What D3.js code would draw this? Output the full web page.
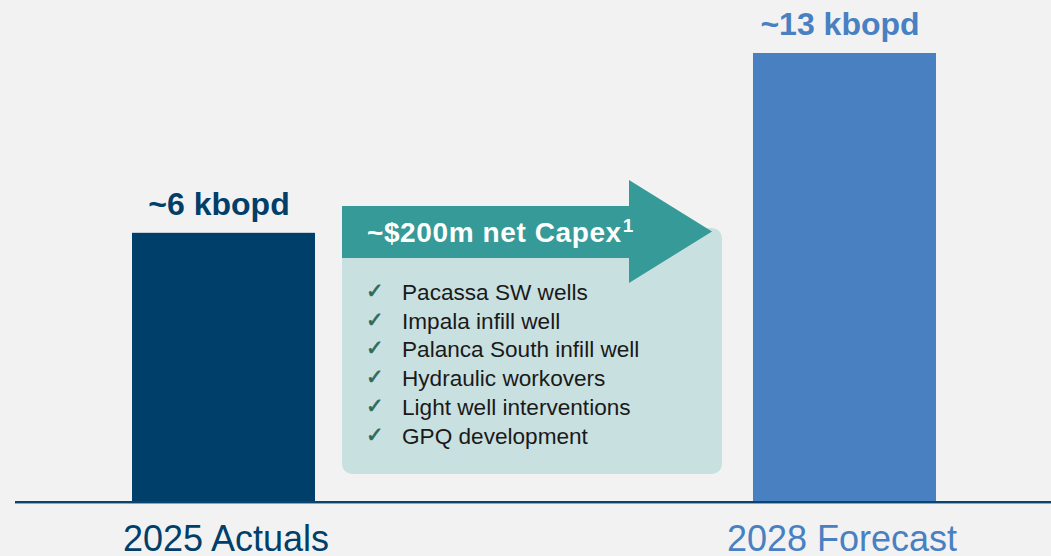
<!DOCTYPE html>
<html>
<head>
<meta charset="utf-8">
<script src="https://cdn.jsdelivr.net/npm/d3@7"></script>
<style>
  html, body { margin: 0; padding: 0; background: #f2f2f2; }
  svg { display: block; }
</style>
</head>
<body>
<svg id="chart" width="1051" height="556"></svg>
<script>
// Production volumes (kbopd)
const categories = ["2025 Actuals", "2028 Forecast"];
const production = [6, 13];
const valueLabels = ["~6 kbopd", "~13 kbopd"];
const barColors = ["#003f6a", "#4880c2"];

// Investment programme bridging the two years
const capexTitle = "~$200m net Capex";
const capexNote = "1";
const projects = [
  "Pacassa SW wells",
  "Impala infill well",
  "Palanca South infill well",
  "Hydraulic workovers",
  "Light well interventions",
  "GPQ development"
];

const svg = d3.select("#chart");
const W = 1051, H = 556;
const baseY = 501;

svg.append("rect").attr("width", W).attr("height", H).attr("fill", "#f2f2f2");

const x = d3.scaleBand()
  .domain(categories)
  .range([132, 936])
  .paddingInner(0.7053)
  .paddingOuter(0);

// bars are drawn on a non-zero-based value axis (not to scale from zero)
const y = d3.scaleLinear()
  .domain([-4.44, 13])
  .range([baseY, 53]);

const data = categories.map((c, i) => ({ c, v: production[i], label: valueLabels[i], color: barColors[i] }));

// Capex panel (light box behind arrow)
const boxL = 342, boxR = 722, boxT = 228, boxB = 474;
svg.append("rect")
  .attr("x", boxL).attr("y", boxT)
  .attr("width", boxR - boxL).attr("height", boxB - boxT)
  .attr("rx", 10).attr("ry", 10)
  .attr("fill", "#c9e0e0");

// Arrow
const aTop = 206, aBot = 258, headX = 629, headTop = 180, headBot = 283, tipX = 712;
const arrowPts = [
  [boxL, aTop], [headX, aTop], [headX, headTop], [tipX, (headTop + headBot) / 2],
  [headX, headBot], [headX, aBot], [boxL, aBot]
];
svg.append("path")
  .attr("d", d3.line()(arrowPts) + "Z")
  .attr("fill", "#359a98");

const title = svg.append("text")
  .attr("x", 367).attr("y", 242)
  .attr("fill", "#ffffff")
  .attr("font-family", "Liberation Sans, Arial, sans-serif")
  .attr("font-weight", "bold")
  .attr("font-size", 28)
  .attr("letter-spacing", 0.6)
  .text(capexTitle);
title.append("tspan")
  .attr("dy", -10)
  .attr("dx", 1)
  .attr("font-size", 19)
  .text(capexNote);

// Project list
const listG = svg.append("g");
const item = listG.selectAll("g.item")
  .data(projects)
  .enter().append("g")
  .attr("class", "item")
  .attr("transform", (d, i) => `translate(0, ${300 + i * 28.7})`);
item.append("text")
  .attr("x", 366)
  .attr("y", -2)
  .attr("fill", "#2e6a5c")
  .attr("stroke", "#2e6a5c")
  .attr("stroke-width", 0.7)
  .attr("font-family", "DejaVu Sans, sans-serif")
  .attr("font-size", 21)
  .text("\u2713");
item.append("text")
  .attr("x", 402)
  .attr("fill", "#1a1a1a")
  .attr("font-family", "Liberation Sans, Arial, sans-serif")
  .attr("font-size", 22.6)
  .text(d => d);

// Bars
svg.selectAll("rect.bar")
  .data(data)
  .enter().append("rect")
  .attr("class", "bar")
  .attr("x", d => x(d.c))
  .attr("width", x.bandwidth())
  .attr("y", d => y(d.v))
  .attr("height", d => baseY - y(d.v))
  .attr("fill", d => d.color);

// Value labels
svg.selectAll("text.val")
  .data(data)
  .enter().append("text")
  .attr("class", "val")
  .attr("x", d => x(d.c) + x.bandwidth() / 2 - 4.5)
  .attr("y", d => y(d.v) - 18)
  .attr("text-anchor", "middle")
  .attr("fill", d => d.color)
  .attr("font-family", "Liberation Sans, Arial, sans-serif")
  .attr("font-weight", "bold")
  .attr("font-size", 32)
  .text(d => d.label);

// Baseline
svg.append("rect").attr("x", 15).attr("y", baseY).attr("width", W - 15).attr("height", 2).attr("fill", "#0b4470");
svg.append("rect").attr("x", 15).attr("y", baseY + 2).attr("width", W - 15).attr("height", 1).attr("fill", "#8ba6bd");

// Category axis labels
const xAxis = d3.axisBottom(x).tickSize(0).tickPadding(0);
const axisG = svg.append("g")
  .attr("transform", `translate(0, ${baseY})`)
  .call(xAxis);
axisG.select(".domain").remove();
axisG.selectAll(".tick text")
  .attr("x", (d, i) => i === 0 ? 2.5 : -2.5)
  .attr("y", 50)
  .attr("dy", 0)
  .attr("font-family", "Liberation Sans, Arial, sans-serif")
  .attr("font-size", 36)
  .attr("fill", (d, i) => barColors[i]);
</script>
</body>
</html>
